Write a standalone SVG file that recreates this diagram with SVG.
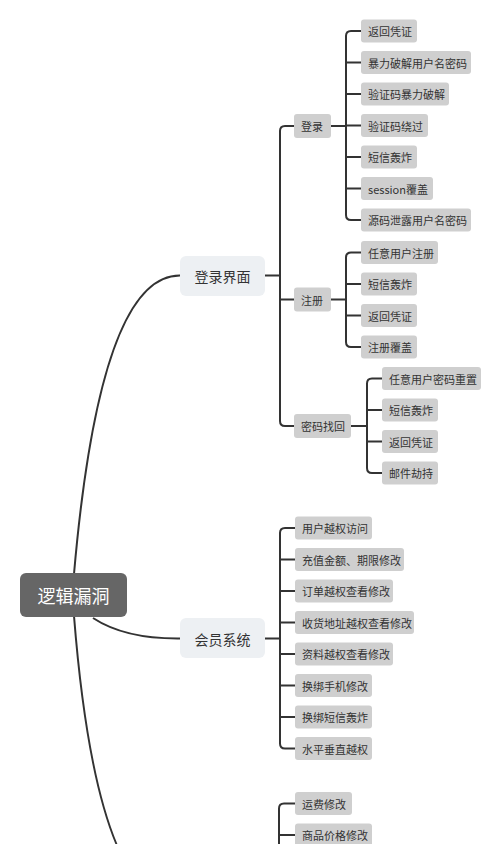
<svg xmlns="http://www.w3.org/2000/svg" width="500" height="844" viewBox="0 0 500 844">
<style>
text{font-family:"Noto Sans CJK SC","Noto Sans",sans-serif;fill:#333;dominant-baseline:central}
.leaf rect,.l2 rect{fill:#cfcfcf}
.leaf text,.l2 text{font-size:11px}
.l1 rect{fill:#edf0f3}
.l1 text{font-size:14px;text-anchor:middle}
.root rect{fill:#666}
.root text{font-size:18px;fill:#fff;text-anchor:middle}
.c path{fill:none;stroke:#333;stroke-width:2}
</style>
<rect width="500" height="844" fill="#fff"/>
<g class="c" id="connectors">
<path d="M74,574 Q100,275 180,275.5"/>
<path d="M93,618 Q125,639 180,638.5"/>
<path d="M74,616 Q97,905 180,905"/>
<path d="M265,275.5 H280 M294,126 H285 Q280,126 280,131 V421 Q280,426 285,426 H294 M280,299.5 H294"/>
<path d="M331,126 H346 M361,31 H351 Q346,31 346,36 V215 Q346,220 351,220 H361 M346,62.5 H361 M346,94 H361 M346,125.5 H361 M346,157 H361 M346,188.5 H361"/>
<path d="M331,299.5 H346 M361,252.5 H351 Q346,252.5 346,257.5 V342 Q346,347 351,347 H361 M346,284 H361 M346,315.5 H361"/>
<path d="M351,426 H367 M382,378.5 H372 Q367,378.5 367,383.5 V468 Q367,473 372,473 H382 M367,410 H382 M367,441.5 H382"/>
<path d="M265,638.5 H280 M295,528 H285 Q280,528 280,533 V743.5 Q280,748.5 285,748.5 H295 M280,559.5 H295 M280,591 H295 M280,622.5 H295 M280,654 H295 M280,685.5 H295 M280,717 H295"/>
<path d="M295,803.5 H284 Q279,803.5 279,808.5 V850 M279,835 H295"/>
</g>
<g class="root" id="n-root"><rect x="20" y="573" width="107" height="44" rx="6"/><text x="73.5" y="595">逻辑漏洞</text></g>
<g class="l1" id="n-login-ui"><rect x="180" y="256" width="85" height="40" rx="6"/><text x="222.5" y="276">登录界面</text></g>
<g class="l1" id="n-member"><rect x="180" y="618" width="85" height="40" rx="6"/><text x="222.5" y="638.5">会员系统</text></g>
<g class="l2" id="n-login"><rect x="294" y="114" width="37" height="24" rx="3"/><text x="301" y="126">登录</text></g>
<g class="l2" id="n-register"><rect x="294" y="287.5" width="37" height="24" rx="3"/><text x="301" y="299.5">注册</text></g>
<g class="l2" id="n-recover"><rect x="294" y="414" width="57" height="24" rx="3"/><text x="301" y="426">密码找回</text></g>
<g class="leaf" id="n-a1"><rect x="361" y="19.5" width="56" height="23" rx="3"/><text x="368" y="31">返回凭证</text></g>
<g class="leaf" id="n-a2"><rect x="361" y="51" width="110" height="23" rx="3"/><text x="368" y="62.5">暴力破解用户名密码</text></g>
<g class="leaf" id="n-a3"><rect x="361" y="82.5" width="88" height="23" rx="3"/><text x="368" y="94">验证码暴力破解</text></g>
<g class="leaf" id="n-a4"><rect x="361" y="114" width="67" height="23" rx="3"/><text x="368" y="125.5">验证码绕过</text></g>
<g class="leaf" id="n-a5"><rect x="361" y="145.5" width="56" height="23" rx="3"/><text x="368" y="157">短信轰炸</text></g>
<g class="leaf" id="n-a6"><rect x="361" y="177" width="72" height="23" rx="3"/><text x="368" y="188.5">session覆盖</text></g>
<g class="leaf" id="n-a7"><rect x="361" y="208.5" width="110" height="23" rx="3"/><text x="368" y="220">源码泄露用户名密码</text></g>
<g class="leaf" id="n-b1"><rect x="361" y="241" width="77" height="23" rx="3"/><text x="368" y="252.5">任意用户注册</text></g>
<g class="leaf" id="n-b2"><rect x="361" y="272.5" width="56" height="23" rx="3"/><text x="368" y="284">短信轰炸</text></g>
<g class="leaf" id="n-b3"><rect x="361" y="304" width="56" height="23" rx="3"/><text x="368" y="315.5">返回凭证</text></g>
<g class="leaf" id="n-b4"><rect x="361" y="335.5" width="56" height="23" rx="3"/><text x="368" y="347">注册覆盖</text></g>
<g class="leaf" id="n-c1"><rect x="382" y="367" width="99" height="23" rx="3"/><text x="389" y="378.5">任意用户密码重置</text></g>
<g class="leaf" id="n-c2"><rect x="382" y="398.5" width="56" height="23" rx="3"/><text x="389" y="410">短信轰炸</text></g>
<g class="leaf" id="n-c3"><rect x="382" y="430" width="56" height="23" rx="3"/><text x="389" y="441.5">返回凭证</text></g>
<g class="leaf" id="n-c4"><rect x="382" y="461.5" width="56" height="23" rx="3"/><text x="389" y="473">邮件劫持</text></g>
<g class="leaf" id="n-d1"><rect x="295" y="516.5" width="77" height="23" rx="3"/><text x="302" y="528">用户越权访问</text></g>
<g class="leaf" id="n-d2"><rect x="295" y="548" width="109" height="23" rx="3"/><text x="302" y="559.5">充值金额、期限修改</text></g>
<g class="leaf" id="n-d3"><rect x="295" y="579.5" width="98" height="23" rx="3"/><text x="302" y="591">订单越权查看修改</text></g>
<g class="leaf" id="n-d4"><rect x="295" y="611" width="119" height="23" rx="3"/><text x="302" y="622.5">收货地址越权查看修改</text></g>
<g class="leaf" id="n-d5"><rect x="295" y="642.5" width="98" height="23" rx="3"/><text x="302" y="654">资料越权查看修改</text></g>
<g class="leaf" id="n-d6"><rect x="295" y="674" width="77" height="23" rx="3"/><text x="302" y="685.5">换绑手机修改</text></g>
<g class="leaf" id="n-d7"><rect x="295" y="705.5" width="77" height="23" rx="3"/><text x="302" y="717">换绑短信轰炸</text></g>
<g class="leaf" id="n-d8"><rect x="295" y="737" width="77" height="23" rx="3"/><text x="302" y="748.5">水平垂直越权</text></g>
<g class="leaf" id="n-e1"><rect x="295" y="792" width="57" height="23" rx="3"/><text x="302" y="803.5">运费修改</text></g>
<g class="leaf" id="n-e2"><rect x="295" y="823.5" width="77" height="23" rx="3"/><text x="302" y="835">商品价格修改</text></g>
</svg>
